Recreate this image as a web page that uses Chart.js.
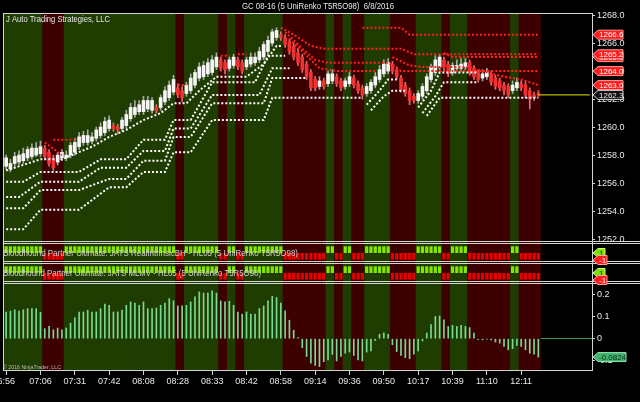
<!DOCTYPE html>
<html>
<head>
<meta charset="utf-8">
<script src="https://cdn.jsdelivr.net/npm/chart.js@4.4.0/dist/chart.umd.min.js"></script>
<style>
  html, body { margin: 0; padding: 0; background: #000; }
</style>
</head>
<body>
<canvas id="gc" width="640" height="402"></canvas>
<script>
// x axis: one slot per renko bar, plus empty slots to the right edge
const slotCount = 137;
const timeLabels = ['6:56', '07:06', '07:31', '07:42', '08:08', '08:28', '08:33', '08:42',
  '08:58', '09:14', '09:36', '09:50', '10:17', '10:39', '11:10', '12:11'];

// 1 = long (green), -1 = short (red)
const trendDir = [
  1, 1, 1, 1, 1, 1, 1, 1, 1, -1,
  -1, -1, -1, -1, 1, 1, 1, 1, 1, 1,
  1, 1, 1, 1, 1, 1, 1, 1, 1, 1,
  1, 1, 1, 1, 1, 1, 1, 1, 1, 1,
  -1, -1, 1, 1, 1, 1, 1, 1, 1, 1,
  -1, -1, 1, 1, -1, -1, 1, 1, 1, 1,
  1, 1, 1, 1, 1, -1, -1, -1, -1, -1,
  -1, -1, -1, -1, -1, 1, 1, -1, -1, 1,
  1, -1, -1, -1, 1, 1, 1, 1, 1, 1,
  -1, -1, -1, -1, -1, -1, 1, 1, 1, 1,
  1, 1, -1, -1, 1, 1, 1, 1, -1, -1,
  -1, -1, -1, -1, -1, -1, -1, -1, 1, 1,
  -1, -1, -1, -1, -1
];

const barOpen = [
  1257.2, 1257.0, 1257.4, 1257.5, 1257.6, 1257.8, 1257.9, 1258.0, 1258.1, 1258.5,
  1258.2, 1257.8, 1257.5, 1257.8, 1257.8, 1258.0, 1258.2, 1258.6, 1258.9, 1258.9,
  1259.0, 1259.2, 1259.4, 1259.6, 1259.9, 1260.1, 1260.0, 1259.9, 1260.1, 1260.6,
  1260.9, 1261.1, 1261.1, 1261.3, 1261.2, 1261.4, 1261.4, 1261.8, 1262.1, 1262.5,
  1262.8, 1262.6, 1262.4, 1262.6, 1263.0, 1263.5, 1263.6, 1263.8, 1263.9, 1264.3,
  1264.8, 1264.6, 1264.2, 1264.4, 1264.8, 1264.6, 1264.3, 1264.5, 1264.6, 1264.8,
  1265.0, 1265.4, 1266.0, 1266.4, 1266.6, 1266.4, 1266.1, 1265.8, 1265.3, 1265.0,
  1264.5, 1263.9, 1263.4, 1262.9, 1263.3, 1263.1, 1263.3, 1263.6, 1263.3, 1262.9,
  1263.1, 1263.5, 1263.1, 1262.8, 1262.4, 1262.6, 1263.0, 1263.4, 1263.8, 1264.0,
  1264.5, 1264.1, 1263.5, 1263.0, 1262.6, 1262.2, 1261.9, 1262.2, 1262.6, 1263.4,
  1263.9, 1264.3, 1264.8, 1264.5, 1263.9, 1264.2, 1264.2, 1264.3, 1264.6, 1264.2,
  1263.9, 1263.5, 1263.6, 1263.8, 1263.5, 1263.3, 1263.0, 1262.9, 1262.6, 1262.8,
  1263.1, 1263.0, 1262.6, 1262.3, 1262.4
];
const barHigh = [
  1258.0, 1257.7, 1258.2, 1258.3, 1258.5, 1258.6, 1258.8, 1258.9, 1259.0, 1258.7,
  1258.4, 1258.0, 1258.2, 1258.4, 1258.3, 1258.9, 1259.2, 1259.6, 1259.7, 1259.8,
  1259.6, 1260.0, 1260.3, 1260.7, 1260.8, 1260.3, 1260.2, 1260.7, 1261.2, 1261.7,
  1261.9, 1261.9, 1262.2, 1262.2, 1262.1, 1261.6, 1262.3, 1262.9, 1263.3, 1263.7,
  1263.1, 1262.9, 1263.2, 1263.8, 1264.1, 1264.6, 1264.7, 1264.9, 1265.1, 1265.3,
  1265.0, 1264.8, 1265.0, 1265.2, 1265.0, 1264.8, 1265.0, 1265.3, 1265.3, 1265.7,
  1266.1, 1266.5, 1267.0, 1267.1, 1266.8, 1266.6, 1266.3, 1266.0, 1265.6, 1265.2,
  1264.7, 1264.1, 1263.6, 1263.6, 1263.5, 1264.0, 1264.1, 1263.8, 1263.5, 1263.5,
  1263.9, 1263.7, 1263.3, 1263.0, 1263.1, 1263.4, 1263.9, 1264.4, 1264.8, 1264.9,
  1264.7, 1264.3, 1263.7, 1263.2, 1262.8, 1262.4, 1262.6, 1263.1, 1263.8, 1264.5,
  1265.1, 1265.2, 1265.0, 1264.7, 1264.6, 1264.8, 1264.9, 1264.9, 1264.8, 1264.4,
  1264.1, 1264.1, 1264.2, 1264.0, 1263.7, 1263.5, 1263.2, 1263.1, 1263.3, 1263.5,
  1263.3, 1263.2, 1262.8, 1262.5, 1262.6
];
const barLow = [
  1257.0, 1256.8, 1257.2, 1257.3, 1257.4, 1257.6, 1257.7, 1257.9, 1257.9, 1257.7,
  1257.2, 1256.9, 1257.3, 1257.6, 1257.6, 1257.8, 1258.0, 1258.4, 1258.7, 1258.7,
  1258.8, 1259.0, 1259.2, 1259.4, 1259.7, 1259.7, 1259.5, 1259.7, 1259.9, 1260.4,
  1260.7, 1260.9, 1260.9, 1261.1, 1261.0, 1261.0, 1261.2, 1261.6, 1261.9, 1262.3,
  1262.1, 1261.8, 1262.2, 1262.4, 1262.8, 1263.3, 1263.4, 1263.6, 1263.7, 1264.1,
  1264.0, 1263.8, 1264.0, 1264.2, 1264.1, 1263.8, 1264.1, 1264.3, 1264.4, 1264.6,
  1264.8, 1265.2, 1265.8, 1266.2, 1266.2, 1265.7, 1265.2, 1264.8, 1264.4, 1263.9,
  1263.4, 1262.6, 1262.6, 1262.7, 1262.7, 1262.9, 1263.1, 1262.9, 1262.6, 1262.7,
  1262.9, 1262.8, 1262.4, 1262.0, 1262.2, 1262.4, 1262.8, 1263.2, 1263.6, 1263.8,
  1263.8, 1263.4, 1262.5, 1262.2, 1261.6, 1261.7, 1261.7, 1262.0, 1262.4, 1263.2,
  1263.7, 1264.1, 1264.1, 1263.6, 1263.7, 1264.0, 1264.0, 1264.1, 1263.7, 1263.4,
  1263.2, 1263.3, 1263.4, 1263.0, 1262.7, 1262.6, 1262.3, 1262.1, 1262.4, 1262.6,
  1262.6, 1262.1, 1261.3, 1261.9, 1262.2
];
const barClose = [
  1257.8, 1257.4, 1257.9, 1258.0, 1258.1, 1258.4, 1258.5, 1258.5, 1258.6, 1257.9,
  1257.4, 1257.1, 1258.0, 1258.2, 1258.0, 1258.7, 1258.9, 1259.3, 1259.4, 1259.4,
  1259.3, 1259.8, 1260.0, 1260.4, 1260.5, 1259.9, 1259.8, 1260.5, 1260.9, 1261.4,
  1261.4, 1261.6, 1261.9, 1261.9, 1261.9, 1261.2, 1262.1, 1262.6, 1263.0, 1263.4,
  1262.3, 1262.1, 1263.0, 1263.5, 1263.9, 1264.3, 1264.4, 1264.6, 1264.8, 1265.0,
  1264.2, 1264.1, 1264.8, 1265.0, 1264.3, 1264.0, 1264.8, 1265.0, 1265.0, 1265.4,
  1265.9, 1266.2, 1266.8, 1266.9, 1266.4, 1265.9, 1265.4, 1265.0, 1264.6, 1264.1,
  1263.6, 1262.8, 1262.8, 1263.3, 1262.9, 1263.8, 1263.8, 1263.1, 1262.8, 1263.3,
  1263.6, 1263.0, 1262.6, 1262.3, 1262.9, 1263.2, 1263.6, 1264.1, 1264.5, 1264.6,
  1264.0, 1263.6, 1262.7, 1262.4, 1261.9, 1261.9, 1262.4, 1262.9, 1263.6, 1264.3,
  1264.8, 1265.0, 1264.3, 1263.8, 1264.4, 1264.4, 1264.5, 1264.6, 1263.9, 1263.6,
  1263.4, 1263.8, 1263.9, 1263.2, 1262.9, 1262.8, 1262.6, 1262.3, 1263.0, 1263.2,
  1262.8, 1262.3, 1262.0, 1262.1, 1262.3
];
const lastPrice = 1262.3;

const oscValues = [
  0.12, 0.124, 0.13, 0.124, 0.13, 0.135, 0.135, 0.135, 0.118, 0.045,
  0.055, 0.04, 0.048, 0.04, 0.048, 0.07, 0.094, 0.12, 0.12, 0.128,
  0.12, 0.12, 0.135, 0.155, 0.15, 0.12, 0.12, 0.128, 0.15, 0.165,
  0.16, 0.15, 0.165, 0.135, 0.135, 0.138, 0.15, 0.16, 0.18, 0.17,
  0.147, 0.147, 0.15, 0.165, 0.188, 0.21, 0.205, 0.205, 0.215, 0.205,
  0.17, 0.165, 0.168, 0.15, 0.12, 0.11, 0.12, 0.11, 0.11, 0.135,
  0.147, 0.17, 0.19, 0.185, 0.16, 0.125, 0.083, 0.038, 0.005, -0.04,
  -0.08, -0.11, -0.12, -0.125, -0.103, -0.095, -0.07, -0.1, -0.08, -0.065,
  -0.06, -0.075, -0.095, -0.1, -0.06, -0.055, -0.008, 0.02, 0.026, 0.02,
  -0.027, -0.058, -0.075, -0.085, -0.09, -0.07, -0.055, -0.01, 0.025, 0.063,
  0.1, 0.102, 0.085, 0.055, 0.06, 0.055, 0.06, 0.055, 0.05, 0.025,
  -0.004, -0.005, -0.002, -0.005, -0.015, -0.02, -0.035, -0.05, -0.045, -0.03,
  -0.035, -0.05, -0.065, -0.07, -0.0824
];
const oscLast = -0.0824;

// trailing stops: [bar, price] corners of each step line
const whiteStops = [
  [[0, 1256.9], [8, 1257.7], [13, 1257.7], [20, 1258.6], [24, 1259.3], [28, 1259.8], [32, 1260.5], [36, 1261.0], [39, 1261.7], [42, 1261.7], [45, 1262.6], [49, 1263.6], [56, 1263.6], [60, 1264.5], [63, 1265.8], [64, 1265.8]],
  [[0, 1256.1], [4, 1256.1], [8, 1256.8], [17, 1256.8], [22, 1257.7], [28, 1257.7], [32, 1259.1], [37, 1259.1], [39, 1260.5], [43, 1260.5], [48, 1263.2], [58, 1263.2], [61, 1265.1], [65, 1265.1]],
  [[0, 1255.0], [3, 1255.0], [8, 1256.1], [17, 1256.1], [22, 1257.1], [28, 1257.1], [32, 1258.3], [37, 1258.3], [39, 1259.9], [43, 1259.9], [48, 1262.3], [59, 1262.3], [62, 1264.2], [66, 1264.2]],
  [[0, 1254.2], [4, 1254.2], [8, 1255.5], [17, 1255.5], [24, 1256.3], [28, 1256.3], [32, 1257.6], [37, 1257.6], [39, 1259.3], [43, 1259.3], [48, 1261.7], [60, 1261.7], [62, 1263.5], [70, 1263.5]],
  [[0, 1252.7], [4, 1252.7], [8, 1254.1], [17, 1254.1], [24, 1255.7], [28, 1255.7], [32, 1256.8], [37, 1256.8], [39, 1258.2], [43, 1258.2], [48, 1260.5], [60, 1260.5], [62, 1262.1], [83, 1262.1]],
  [[84, 1261.6], [87, 1262.6], [89, 1263.4], [91, 1263.4]],
  [[85, 1261.2], [88, 1262.2], [90, 1262.6], [93, 1262.6]],
  [[96, 1261.4], [99, 1262.6], [101, 1263.9], [110, 1263.9]],
  [[97, 1261.0], [100, 1262.2], [102, 1263.2], [110, 1263.2]],
  [[98, 1260.8], [101, 1262.1], [124, 1262.1]]
];
const redStops = [
  [[9, 1258.9], [13, 1258.0]],
  [[11, 1259.1], [16, 1259.1]],
  [[40, 1263.0], [42, 1263.0]],
  [[50, 1265.1], [52, 1265.1]],
  [[54, 1265.2], [56, 1265.2]],
  [[83, 1267.1], [92, 1267.1], [94, 1266.6], [124, 1266.6]],
  [[64, 1267.1], [67, 1266.6], [71, 1265.8], [74, 1265.6], [92, 1265.6], [95, 1265.2], [124, 1265.2]],
  [[65, 1266.8], [69, 1265.6], [72, 1264.8], [75, 1264.6], [89, 1264.6], [92, 1264.0], [124, 1264.0]],
  [[66, 1266.3], [70, 1265.1], [73, 1264.2], [77, 1264.0], [86, 1264.0]],
  [[102, 1265.3], [104, 1265.0], [124, 1265.0]],
  [[90, 1265.0], [94, 1264.4], [97, 1264.3], [108, 1264.3], [111, 1264.0], [116, 1263.6], [120, 1263.4], [124, 1263.0]]
];
const stopTags = [1266.6, 1265.0, 1265.2, 1264.0, 1263.0];

const slots = Array.from({ length: slotCount }, (_, i) => i);
const txt = '#e8e8e8';
const font9 = { family: 'Liberation Sans, Arial', size: 9 };
const upCol = barOpen.map((o, i) => barClose[i] >= o);

function stopSet(list, color) {
  return list.map(pts => ({
    type: 'line',
    data: pts.map(p => ({ x: p[0], y: p[1] })),
    yAxisID: 'yPrice',
    borderColor: color,
    borderWidth: 2,
    borderDash: [2, 2],
    pointRadius: 0,
    order: 1
  }));
}

function indSet(axis) {
  return {
    type: 'bar',
    data: trendDir,
    yAxisID: axis,
    grouped: false,
    barPercentage: 0.75,
    categoryPercentage: 1,
    backgroundColor: trendDir.map(d => d > 0 ? '#84e600' : '#e60000'),
    order: 4
  };
}

function tag(ctx, y, text, fill, stroke, color, w) {
  const x = 593;
  ctx.beginPath();
  ctx.moveTo(x, y);
  ctx.lineTo(x + 5, y - 4.5);
  ctx.lineTo(x + w, y - 4.5);
  ctx.lineTo(x + w, y + 4.5);
  ctx.lineTo(x + 5, y + 4.5);
  ctx.closePath();
  ctx.fillStyle = fill;
  ctx.fill();
  ctx.strokeStyle = stroke;
  ctx.lineWidth = 1;
  ctx.stroke();
  ctx.fillStyle = color;
  ctx.font = '8px Liberation Sans, Arial';
  ctx.textAlign = 'left';
  ctx.textBaseline = 'middle';
  ctx.fillText(text, x + 6, y + 0.5);
}

const chrome = {
  id: 'chrome',
  beforeDraw(chart) {
    const ctx = chart.ctx;
    ctx.save();
    ctx.fillStyle = '#000';
    ctx.fillRect(0, 0, chart.width, chart.height);
    ctx.restore();
  },
  afterDraw(chart) {
    const { ctx, chartArea: a, scales } = chart;
    const p = scales.yPrice, i1 = scales.yInd1, i2 = scales.yInd2, o = scales.yOsc;
    ctx.save();
    ctx.strokeStyle = '#d4d4d4';
    ctx.lineWidth = 1;
    const L = a.left - 0.5, R = a.right + 0.5;
    const h = (y, x2) => { ctx.beginPath(); ctx.moveTo(L, y); ctx.lineTo(x2, y); ctx.stroke(); };
    h(Math.round(p.top) + 0.5, R);
    h(Math.round(p.bottom) - 1.5, 640);
    h(Math.round(i1.top) + 0.5, 640);
    h(Math.round(i1.bottom) - 1.5, 640);
    h(Math.round(i2.top) + 0.5, 640);
    h(Math.round(i2.bottom) - 1.5, 640);
    h(Math.round(o.top) + 0.5, 640);
    h(Math.round(o.bottom) - 0.5, R);
    ctx.beginPath();
    ctx.moveTo(L, a.top); ctx.lineTo(L, a.bottom);
    ctx.moveTo(R, a.top); ctx.lineTo(R, a.bottom);
    ctx.stroke();

    ctx.fillStyle = txt;
    ctx.textBaseline = 'middle';
    ctx.font = '9px Liberation Sans, Arial';
    ctx.textAlign = 'center';
    ctx.fillText('GC 08-16 (5 UniRenko T5R5O98)  6/8/2016', 318, 7, 152);
    ctx.textAlign = 'left';
    ctx.fillText('J Auto Trading Strategies, LLC', 6, 20, 104);
    ctx.fillStyle = '#cfcfcf';
    ctx.fillText('Bloodhound Partner Ultimate: JATS RealIntrinsicBH - HL05 (5 UniRenko T5R5O98)', 3, i1.getPixelForValue(0) + 0.5, 295);
    ctx.fillText('Bloodhound Partner Ultimate: JATS MLMV - HL05 (5 UniRenko T5R5O98)', 3, i2.getPixelForValue(0) + 0.5, 258);
    ctx.font = '6px Liberation Sans, Arial';
    ctx.fillStyle = '#bbbbbb';
    ctx.fillText('\u00a9 2016 NinjaTrader, LLC', 3, o.bottom - 4, 58);

    stopTags.forEach(v => tag(ctx, p.getPixelForValue(v), v.toFixed(1), '#ff1c1c', '#ff9c9c', '#ffffff', 30));
    tag(ctx, p.getPixelForValue(lastPrice), lastPrice.toFixed(1), '#111111', '#d8d8d8', '#e8e8e8', 30);
    [i1, i2].forEach(s => {
      tag(ctx, s.getPixelForValue(0), '1', '#7ee000', '#c8ff80', '#103000', 12);
      tag(ctx, s.getPixelForValue(-1.05), '-1', '#ff1c1c', '#ff9c9c', '#ffffff', 14);
    });
    tag(ctx, o.getPixelForValue(oscLast), String(oscLast), '#43b36e', '#90e0b0', '#0c2a18', 33);
    ctx.restore();
  }
};

const paneAxis = (weight, extra) => Object.assign({
  position: 'right',
  stack: 'panes',
  stackWeight: weight,
  border: { display: false },
  afterFit: s => { s.width = 48; }
}, extra);

new Chart(document.getElementById('gc'), {
  type: 'bar',
  data: {
    labels: slots,
    datasets: [
      {
        type: 'line',
        data: [{ x: 124, y: lastPrice }, { x: slotCount - 1, y: lastPrice }],
        yAxisID: 'yPrice',
        borderColor: '#e6e600',
        borderWidth: 1,
        pointRadius: 0,
        order: 0
      },
      ...stopSet(whiteStops, '#ffffff'),
      ...stopSet(redStops, '#ff2020'),
      {
        data: barOpen.map((v, i) => [v, barClose[i]]),
        yAxisID: 'yPrice',
        grouped: false,
        barThickness: 3,
        borderSkipped: false,
        backgroundColor: upCol.map(u => u ? '#f6f6f6' : '#f03232'),
        order: 2
      },
      {
        data: barLow.map((v, i) => [v, barHigh[i]]),
        yAxisID: 'yPrice',
        grouped: false,
        barThickness: 1,
        backgroundColor: upCol.map(u => u ? '#a8a8a8' : '#e07070'),
        order: 3
      },
      indSet('yInd1'),
      indSet('yInd2'),
      {
        data: oscValues,
        yAxisID: 'yOsc',
        grouped: false,
        barThickness: 1,
        backgroundColor: '#78d894',
        order: 5
      },
      {
        data: trendDir.map(() => 1),
        yAxisID: 'yBg',
        grouped: false,
        barPercentage: 1,
        categoryPercentage: 1,
        backgroundColor: trendDir.map(d => d > 0 ? '#1f3d00' : '#3c0000'),
        order: 10
      }
    ]
  },
  options: {
    responsive: false,
    animation: false,
    devicePixelRatio: 1,
    layout: { padding: { left: 4, top: 13, right: 0, bottom: 0 } },
    plugins: { legend: { display: false }, tooltip: { enabled: false }, title: { display: false } },
    scales: {
      x: {
        type: 'category',
        offset: true,
        grid: {
          offset: false,
          drawOnChartArea: false,
          tickLength: 4,
          color: c => c.index % 8 === 0 && timeLabels[c.index / 8] ? '#d0d0d0' : 'rgba(0,0,0,0)'
        },
        border: { display: false },
        ticks: {
          autoSkip: false,
          maxRotation: 0,
          padding: 1,
          color: txt,
          font: font9,
          callback: (v, i) => i % 8 === 0 ? (timeLabels[i / 8] || '') : ''
        },
        afterFit: s => { s.height = 31; s.paddingLeft = 0; s.paddingRight = 0; }
      },
      yPrice: paneAxis(230, {
        min: 1251.72,
        max: 1268.15,
        ticks: { stepSize: 2, includeBounds: false, color: txt, font: font9, padding: 2, callback: v => v.toFixed(1) },
        grid: { drawOnChartArea: false, tickLength: 3, tickColor: '#d0d0d0' }
      }),
      yInd1: paneAxis(20, {
        min: -1.5, max: 1.5,
        ticks: { display: false, stepSize: 1 },
        grid: { drawTicks: false, color: c => c.tick && c.tick.value === -1 ? '#7a3a12' : 'rgba(0,0,0,0)' }
      }),
      yInd2: paneAxis(20, {
        min: -1.5, max: 1.5,
        ticks: { display: false, stepSize: 1 },
        grid: { drawTicks: false, color: c => c.tick && c.tick.value === -1 ? '#7a3a12' : 'rgba(0,0,0,0)' }
      }),
      yOsc: paneAxis(88, {
        min: -0.145,
        max: 0.25,
        ticks: { stepSize: 0.1, includeBounds: false, color: txt, font: font9, padding: 2, callback: v => String(Math.round(v * 10) / 10) },
        grid: {
          tickLength: 3,
          tickColor: '#d0d0d0',
          color: c => c.tick && Math.abs(c.tick.value) < 1e-9 ? '#3f9a66' : 'rgba(0,0,0,0)'
        }
      }),
      yBg: { position: 'right', display: false, min: 0, max: 1 }
    }
  },
  plugins: [chrome]
});
</script>
</body>
</html>
